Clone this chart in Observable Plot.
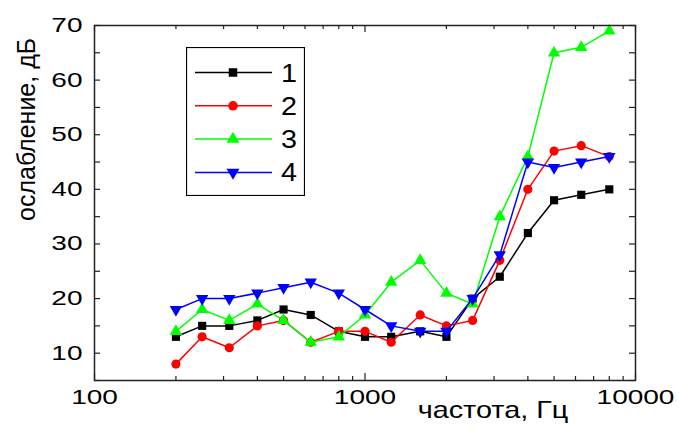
<!DOCTYPE html>
<html><head><meta charset="utf-8">
<script src="https://cdn.jsdelivr.net/npm/d3@7"></script>
<script src="https://cdn.jsdelivr.net/npm/@observablehq/plot@0.6"></script>
<style>
body{margin:0;background:#fff;font-family:"Liberation Sans",Arial,sans-serif;}
#wrap{position:relative;width:679px;height:436px;}
#legend{position:absolute;left:186px;top:47px;}
</style></head><body><div id="wrap"></div>
<script>
const freqs=[200,250,315,400,500,630,800,1000,1250,1600,2000,2500,3150,4000,5000,6300,8000];
const s1=[13,15,15,16,18,17,14,13,13,14,13,20,24,32,38,39,40];
const s2=[8,13,11,15,16,12,14,14,12,17,15,16,27,40,47,48,46];
const s3=[14,18,16,19,16,12,13,17,23,27,21,19,35,46,65,66,69];
const s4=[18,20,20,21,22,23,21,18,15,14,14,20,28,45,44,45,46];
const seriesNames=["1","2","3","4"];
const colors=["#000000","#ff0000","#00ff00","#0000ff"];
const symbols=["square","circle","triangle","triangle"];
const rotations=[0,0,0,180];
const xTicks=[100,1000,10000];
const xMinor=[200,300,400,500,600,700,800,900,2000,3000,4000,5000,6000,7000,8000,9000];
const yTicks=[10,20,30,40,50,60,70];
const yMinor=[5,15,25,35,45,55,65];
const xLabel="частота, Гц";
const yLabel="ослабление, дБ";

const W=679,H=436,mL=94,mR=44,mT=25,mB=56;
const iW=W-mL-mR, iH=H-mT-mB;
const all=[s1,s2,s3,s4];
const data=seriesNames.flatMap((n,i)=>freqs.map((f,j)=>({f,v:all[i][j],s:n,rot:rotations[i]})));

const seriesMarks=seriesNames.flatMap((n,i)=>{
  const d=data.filter(r=>r.s===n);
  return [
    Plot.line(d,{x:"f",y:"v",stroke:"s",strokeWidth:1.5}),
    Plot.dot(d,{x:"f",y:"v",fill:"s",symbol:"s",rotate:"rot",r:4.6,stroke:null})
  ];
});

const chart=Plot.plot({
  width:W,height:H,marginLeft:mL,marginRight:mR,marginTop:mT,marginBottom:mB,
  x:{type:"log",domain:[100,10000]},
  y:{domain:[5,70]},
  color:{domain:seriesNames,range:colors},
  symbol:{domain:seriesNames,range:symbols},
  style:{fontFamily:"'Liberation Sans',Arial,sans-serif",fontSize:"20px",color:"#000",background:"white",overflow:"visible"},
  marks:[
    // tick marks (inward)
    Plot.tickX(xMinor,{x:d=>d,insetTop:iH-4,stroke:"#222",strokeWidth:1.2}),
    Plot.tickX(xMinor,{x:d=>d,insetBottom:iH-4,stroke:"#222",strokeWidth:1.2}),
    Plot.tickX(xTicks,{x:d=>d,insetTop:iH-7,stroke:"#222",strokeWidth:1.2}),
    Plot.tickX(xTicks,{x:d=>d,insetBottom:iH-7,stroke:"#222",strokeWidth:1.2}),
    Plot.tickY(yTicks.concat(yMinor),{y:d=>d,insetRight:iW-6,stroke:"#222",strokeWidth:1.2}),
    Plot.tickY(yTicks.concat(yMinor),{y:d=>d,insetLeft:iW-6,stroke:"#222",strokeWidth:1.2}),
    Plot.axisX({ticks:xTicks,tickSize:0,tickPadding:9,tickFormat:d=>String(d),label:null,anchor:"bottom"}),
    Plot.axisY({ticks:yTicks,tickSize:0,tickPadding:12,tickFormat:d=>String(d),label:null,anchor:"left"}),
    Plot.text([xLabel],{text:d=>d,frameAnchor:"bottom",dx:128,dy:37,fontSize:24,fill:"#000"}),
    Plot.text([yLabel],{text:d=>d,frameAnchor:"left",rotate:-90,dx:-68,dy:18,fontSize:25,fill:"#000"}),
    ...seriesMarks,
    Plot.frame({stroke:"#222",strokeWidth:1.5})
  ]
});
const wrap=document.getElementById("wrap");
wrap.appendChild(chart);

// horizontal stretch of the horizontal texts, as in the reference
chart.querySelectorAll('g[aria-label="x-axis tick label"] text, g[aria-label="y-axis tick label"] text').forEach(el=>{
  const w=el.getComputedTextLength();
  el.setAttribute("textLength",w*1.4);
  el.setAttribute("lengthAdjust","spacingAndGlyphs");
});
chart.querySelectorAll('g[aria-label="text"] text').forEach(el=>{
  if(el.textContent===xLabel){
    const w=el.getComputedTextLength();
    el.setAttribute("textLength",w*1.2);
    el.setAttribute("lengthAdjust","spacingAndGlyphs");
  }
});

// legend
const lg=d3.select(wrap).append("svg").attr("id","legend").attr("width",119).attr("height",149);
lg.append("rect").attr("x",0.5).attr("y",0.5).attr("width",118).attr("height",148).attr("fill","white").attr("stroke","#000").attr("stroke-width",1.2);
const symMap={square:d3.symbolSquare,circle:d3.symbolCircle,triangle:d3.symbolTriangle};
seriesNames.forEach((n,i)=>{
  const y=25.5+i*33.3;
  const g=lg.append("g").attr("transform",`translate(0,${y})`);
  g.append("line").attr("x1",9).attr("x2",86).attr("stroke",colors[i]).attr("stroke-width",1.5);
  g.append("path").attr("d",d3.symbol(symMap[symbols[i]],Math.PI*4.8*4.8)()).attr("transform",`translate(47,0) rotate(${rotations[i]})`).attr("fill",colors[i]);
  const t=g.append("text").attr("x",95).attr("y",9).attr("font-size",25).attr("font-family","'Liberation Sans',Arial,sans-serif").attr("fill","#000").text(n);
  const w=t.node().getComputedTextLength();
  t.attr("textLength",w*1.15).attr("lengthAdjust","spacingAndGlyphs");
});
</script></body></html>
